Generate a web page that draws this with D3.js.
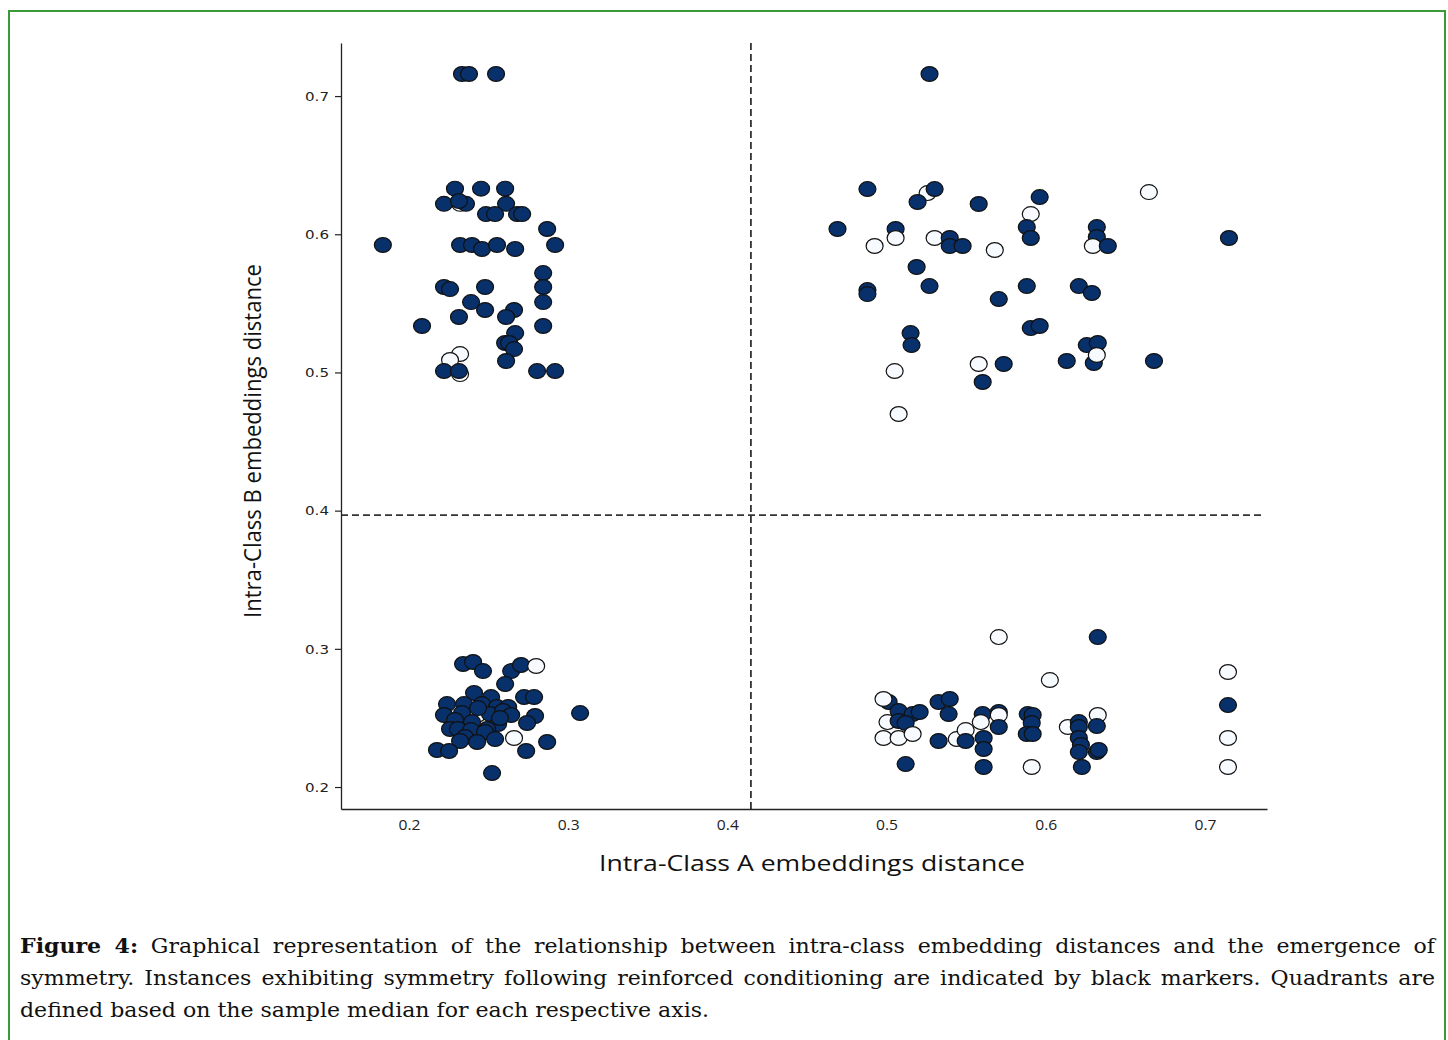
<!DOCTYPE html>
<html>
<head>
<meta charset="utf-8">
<script src="https://cdn.jsdelivr.net/npm/d3@7"></script>
<style>
  html, body { margin: 0; padding: 0; background: #fff; }
  #wrap { position: relative; width: 1448px; height: 1040px; overflow: hidden; }
  svg { position: absolute; left: 0; top: 0; }
  .cap { position: absolute; left: 20px; white-space: nowrap; font-family: "DejaVu Serif Condensed", "DejaVu Serif", serif; font-stretch: condensed; color: #111; transform-origin: 0 0; }
</style>
</head>
<body>
<div id="wrap"></div>
<script>
// ---- Data ----
// Intra-Class A embeddings distance
const intraA = [
  // upper-left quadrant
  0.2333,0.2377,0.2547,0.2289,0.2453,0.2604,0.2321,0.2220,0.2358,0.2314,0.2610,0.2484,0.2541,0.2679,0.2711,
  0.2868,0.1836,0.2321,0.2396,0.2459,0.2553,0.2667,0.2918,0.2843,0.2220,0.2258,0.2478,0.2843,0.2390,0.2843,
  0.2478,0.2660,0.2610,0.2314,0.2082,0.2843,0.2667,0.2604,0.2629,0.2660,0.2321,0.2258,0.2610,0.2321,0.2220,
  0.2314,0.2805,0.2918,
  // upper-right quadrant
  0.5270,0.4880,0.5258,0.5302,0.5195,0.5579,0.5962,0.5906,0.6648,0.4692,0.5057,0.5057,0.4925,0.5302,0.5397,
  0.5397,0.5478,0.5680,0.5881,0.5906,0.6321,0.6321,0.6296,0.6390,0.7151,0.5189,0.4880,0.4880,0.5270,0.5881,
  0.5705,0.6208,0.6290,0.5906,0.5962,0.5151,0.5157,0.6258,0.6327,0.6302,0.6321,0.6132,0.6680,0.5579,0.5736,
  0.5604,0.5051,0.5076,
  // lower-left quadrant
  0.2340,0.2403,0.2465,0.2642,0.2704,0.2799,0.2604,0.2409,0.2516,0.2723,0.2786,0.2239,0.2346,0.2459,0.2553,
  0.2623,0.2428,0.2220,0.2333,0.2509,0.2591,0.2642,0.2792,0.3075,0.2742,0.2560,0.2434,0.2572,0.2396,0.2289,
  0.2258,0.2308,0.2390,0.2491,0.2478,0.2660,0.2352,0.2428,0.2321,0.2541,0.2868,0.2176,0.2252,0.2736,0.2522,
  // lower-right quadrant
  0.5705,0.6327,0.7145,0.6026,0.7145,0.7145,0.7145,0.5013,0.4981,0.5076,0.5164,0.5208,0.5006,0.5076,0.5120,
  0.4981,0.5076,0.5164,0.5120,0.5327,0.5327,0.5397,0.5390,0.5441,0.5497,0.5497,0.5604,0.5592,0.5610,0.5610,
  0.5610,0.5705,0.5705,0.5705,0.5887,0.5918,0.5912,0.5881,0.5918,0.5912,0.6139,0.6208,0.6208,0.6208,0.6221,
  0.6208,0.6227,0.6327,0.6321,0.6321,0.6333
];
// Intra-Class B embeddings distance
const intraB = [
  // upper-left quadrant
  0.716,0.716,0.716,0.633,0.633,0.633,0.622,0.622,0.622,0.624,0.622,0.6146,0.6146,0.6146,0.6146,
  0.6038,0.5922,0.5922,0.5922,0.5893,0.5922,0.5893,0.5922,0.5719,0.5618,0.5603,0.5618,0.5618,0.5509,0.5509,
  0.5452,0.5452,0.5401,0.5401,0.5336,0.5336,0.5285,0.5213,0.5213,0.5169,0.5133,0.5090,0.5083,0.4988,0.5010,
  0.5010,0.5010,0.5010,
  // upper-right quadrant
  0.716,0.6327,0.6298,0.6327,0.6233,0.6219,0.6269,0.6146,0.6305,0.6038,0.6038,0.5973,0.5915,0.5973,0.5973,
  0.5915,0.5915,0.5886,0.6052,0.5973,0.6052,0.5980,0.5915,0.5915,0.5973,0.5763,0.5596,0.5567,0.5625,0.5625,
  0.5531,0.5625,0.5575,0.5321,0.5336,0.5285,0.5198,0.5198,0.5213,0.5068,0.5126,0.5083,0.5083,0.5061,0.5061,
  0.4931,0.5010,0.4699,
  // lower-left quadrant
  0.2890,0.2905,0.2839,0.2839,0.2883,0.2876,0.2745,0.2680,0.2651,0.2651,0.2651,0.2600,0.2600,0.2600,0.2579,
  0.2579,0.2521,0.2521,0.2535,0.2528,0.2550,0.2521,0.2514,0.2535,0.2463,0.2456,0.2571,0.2499,0.2470,0.2485,
  0.2420,0.2420,0.2412,0.2420,0.2398,0.2355,0.2362,0.2326,0.2333,0.2347,0.2326,0.2268,0.2261,0.2261,0.2101,
  // lower-right quadrant
  0.3085,0.3085,0.2832,0.2774,0.2593,0.2355,0.2145,0.2615,0.2637,0.2550,0.2528,0.2543,0.2470,0.2478,0.2463,
  0.2355,0.2355,0.2384,0.2166,0.2333,0.2615,0.2637,0.2528,0.2347,0.2412,0.2333,0.2528,0.2470,0.2355,0.2275,
  0.2145,0.2543,0.2521,0.2434,0.2528,0.2521,0.2463,0.2384,0.2384,0.2145,0.2434,0.2470,0.2434,0.2355,0.2304,
  0.2253,0.2145,0.2521,0.2441,0.2253,0.2268
];
// 1 = symmetry emerged (dark marker), 0 = no symmetry (white marker)
const symmetric = [
  // upper-left quadrant
  1,1,1,1,1,1,0,1,1,1,1,1,1,1,1,
  1,1,1,1,1,1,1,1,1,1,1,1,1,1,1,
  1,1,1,1,1,1,1,1,1,1,0,0,1,0,1,
  1,1,1,
  // upper-right quadrant
  1,1,0,1,1,1,1,0,0,1,1,0,0,0,1,
  1,1,0,1,1,1,1,0,1,1,1,1,1,1,1,
  1,1,1,1,1,1,1,1,1,1,0,1,1,0,1,
  1,0,0,
  // lower-left quadrant
  1,1,1,1,1,0,1,1,1,1,1,1,1,1,1,
  1,0,1,1,1,1,1,1,1,1,1,1,1,1,1,
  1,1,1,1,1,0,1,1,1,1,1,1,1,1,1,
  // lower-right quadrant
  0,1,0,0,1,0,0,1,0,1,1,1,0,1,1,
  0,0,0,1,1,1,1,1,0,0,1,1,0,1,1,
  1,1,0,1,1,1,1,1,1,0,0,1,1,1,1,
  1,1,0,1,1,1
];
// Quadrant split (sample medians)
const medianA = 0.4148;
const medianB = 0.3967;
const xTicks = [0.2, 0.3, 0.4, 0.5, 0.6, 0.7];
const yTicks = [0.2, 0.3, 0.4, 0.5, 0.6, 0.7];
const xTitle = "Intra-Class A embeddings distance";
const yTitle = "Intra-Class B embeddings distance";
const captionBold = "Figure 4:";
const captionLines = [
  " Graphical representation of the relationship between intra-class embedding distances and the emergence of",
  "symmetry. Instances exhibiting symmetry following reinforced conditioning are indicated by black markers. Quadrants are",
  "defined based on the sample median for each respective axis."
];

// ---- Drawing ----
const W = 1448, H = 1040;
const wrap = d3.select("#wrap");
const svg = wrap.append("svg").attr("width", W).attr("height", H);

svg.append("rect").attr("x", 0).attr("y", 0).attr("width", W).attr("height", H).attr("fill", "#fff");
svg.append("rect").attr("x", 9).attr("y", 11).attr("width", 1436).attr("height", 1050)
  .attr("fill", "none").attr("stroke", "#3a9a35").attr("stroke-width", 2);

const x = d3.scaleLinear().domain([0.1573, 0.739]).range([341, 1267]);
const y = d3.scaleLinear().domain([0.1841, 0.7384]).range([809, 43]);

const points = intraA.map((a, i) => ({a, b: intraB[i], s: symmetric[i]}));

// dashed median lines
svg.append("line")
  .attr("x1", x(medianA)).attr("x2", x(medianA))
  .attr("y1", y.range()[1]).attr("y2", y.range()[0])
  .attr("stroke", "#333").attr("stroke-width", 1.8).attr("stroke-dasharray", "7,4");
svg.append("line")
  .attr("x1", x.range()[0]).attr("x2", 1265)
  .attr("y1", y(medianB)).attr("y2", y(medianB))
  .attr("stroke", "#333").attr("stroke-width", 1.8).attr("stroke-dasharray", "7,4");

// markers
svg.append("g").selectAll("ellipse").data(points).join("ellipse")
  .attr("cx", d => x(d.a)).attr("cy", d => y(d.b))
  .attr("rx", 8.5).attr("ry", 7.4)
  .attr("fill", d => d.s ? "#08306b" : "#f7fbff")
  .attr("stroke", "#111").attr("stroke-width", 1.2);

// axes
const yAxis = svg.append("g").attr("transform", `translate(${x.range()[0]},0)`)
  .call(d3.axisLeft(y).tickValues(yTicks).tickFormat(d3.format(".1f")).tickSize(6).tickPadding(6).tickSizeOuter(0));
yAxis.select(".domain").attr("stroke", "#222").attr("stroke-width", 1.3);
yAxis.selectAll(".tick line").attr("stroke", "#222").attr("stroke-width", 1.2);
yAxis.selectAll(".tick text")
  .attr("font-family", "'DejaVu Sans', sans-serif").attr("font-size", 13).attr("fill", "#222")
  .attr("textLength", 24).attr("lengthAdjust", "spacingAndGlyphs");

const xAxis = svg.append("g").attr("transform", `translate(0,${y.range()[0]})`)
  .call(d3.axisBottom(x).tickValues(xTicks).tickFormat(d3.format(".1f")).tickSize(0).tickPadding(10).tickSizeOuter(0));
xAxis.select(".domain").attr("stroke", "#222").attr("stroke-width", 1.3);
xAxis.selectAll(".tick text")
  .attr("font-family", "'Open Sans', sans-serif").attr("font-size", 15).attr("fill", "#222")
  .attr("textLength", 22).attr("lengthAdjust", "spacingAndGlyphs");

// axis titles
svg.append("text").text(xTitle)
  .attr("x", 812).attr("y", 871).attr("text-anchor", "middle")
  .attr("font-family", "'Open Sans', sans-serif").attr("font-size", 22).attr("fill", "#111")
  .attr("textLength", 426).attr("lengthAdjust", "spacingAndGlyphs");
svg.append("text").text(yTitle)
  .attr("transform", "translate(261,441) rotate(-90)").attr("text-anchor", "middle")
  .attr("font-family", "'Open Sans', sans-serif").attr("font-size", 24).attr("fill", "#111")
  .attr("textLength", 354).attr("lengthAdjust", "spacingAndGlyphs");

// caption (justified lines)
const capSize = 21;
const centers = [946, 978, 1010];
const divs = captionLines.map((line, i) => {
  const div = wrap.append("div").attr("class", "cap")
    .style("top", (centers[i] - 16) + "px")
    .style("font-size", capSize + "px")
    .style("line-height", "32px");
  if (i === 0) {
    div.append("b").text(captionBold);
    div.append("span").text(line);
  } else {
    div.append("span").text(line);
  }
  return div;
});
// scale so the last (unjustified) line matches the reference width
const lastW = divs[2].select("span").node().getBoundingClientRect().width;
const sx = 689 / lastW;
const fullW = 1415 / sx;
divs.forEach((div, i) => {
  div.style("transform", `scaleX(${sx})`);
  if (i < 2) {
    div.style("width", fullW + "px").style("text-align", "justify").style("text-align-last", "justify").style("white-space", "normal");
  }
});
</script>
</body>
</html>
